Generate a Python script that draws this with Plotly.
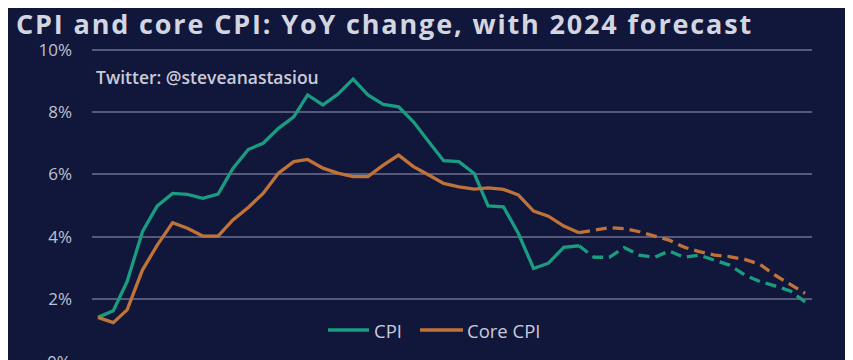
import pandas as pd
import plotly.graph_objects as go

months = pd.date_range("2021-01-01", periods=48, freq="MS")

cpi_actual = [1.41, 1.62, 2.56, 4.16, 4.99, 5.39, 5.36, 5.23, 5.37, 6.19, 6.80, 7.00,
              7.48, 7.85, 8.55, 8.23, 8.57, 9.06, 8.55, 8.25, 8.17, 7.69, 7.05, 6.44,
              6.41, 6.03, 4.99, 4.96, 4.11, 2.98, 3.15, 3.66, 3.71]
core_actual = [1.41, 1.24, 1.65, 2.93, 3.73, 4.45, 4.27, 4.02, 4.02, 4.54, 4.94, 5.39,
               6.04, 6.41, 6.48, 6.20, 6.04, 5.93, 5.93, 6.30, 6.62, 6.25, 5.98, 5.71,
               5.60, 5.53, 5.57, 5.52, 5.34, 4.82, 4.66, 4.34, 4.13]
# forecast starts at the last actual month (Sep 2023) and runs to Dec 2024
cpi_forecast = [3.71, 3.34, 3.34, 3.65, 3.41, 3.34, 3.54, 3.34, 3.41, 3.25, 3.09, 2.77,
                2.56, 2.42, 2.26, 1.91]
core_forecast = [4.13, 4.21, 4.29, 4.26, 4.16, 4.02, 3.89, 3.66, 3.52, 3.41, 3.36, 3.27,
                 3.11, 2.77, 2.48, 2.18]

y_ticks = [0, 2, 4, 6, 8, 10]
y_tick_text = ["0%", "2%", "4%", "6%", "8%", "10%"]
series_names = ["CPI", "Core CPI"]

GREEN = "#1a9c80"
ORANGE = "#c07339"
BG = "#11163b"
TEXT = "#c9ccd8"
TICK = "#bfc2cf"
FONT = "Open Sans"

n_act = len(cpi_actual)
x_act = months[:n_act]
x_fc = months[n_act - 1:]

fig = go.Figure()
fig.add_trace(go.Scatter(x=x_act, y=cpi_actual, mode="lines", name=series_names[0],
                         showlegend=False, line=dict(color=GREEN, width=3.3)))
fig.add_trace(go.Scatter(x=x_act, y=core_actual, mode="lines", name=series_names[1],
                         showlegend=False, line=dict(color=ORANGE, width=3.3)))
fig.add_trace(go.Scatter(x=x_fc, y=cpi_forecast, mode="lines", showlegend=False,
                         line=dict(color=GREEN, width=3.3, dash="11px,6px")))
fig.add_trace(go.Scatter(x=x_fc, y=core_forecast, mode="lines", showlegend=False,
                         line=dict(color=ORANGE, width=3.3, dash="11px,6px")))

# plot area in figure pixels: left 84, right 804, top 32, bottom 352
L, R, T, B = 84, 804, 32, 352
W, H = R - L, B - T


def px(x):
    return (x - L) / W


def py(y):
    return (B - y) / H


fig.update_layout(
    width=853, height=360,
    paper_bgcolor=BG, plot_bgcolor=BG,
    margin=dict(l=L, r=853 - R, t=T, b=360 - B),
    font=dict(family=FONT, color=TEXT),
    title=dict(text="<span style='letter-spacing:1.85px'>CPI and core CPI: YoY change, with 2024 forecast</span>",
               x=8 / 853, xanchor="left", xref="container",
               y=1 - 16.5 / 360, yanchor="middle", yref="container",
               font=dict(family=FONT, size=27, weight=700, color="#d3d6e0")),
    showlegend=False,
    xaxis=dict(range=["2020-12-20", "2024-12-15"], showgrid=False, zeroline=False,
               showticklabels=False, showline=False, ticks=""),
    yaxis=dict(range=[0.042, 10.315], tickvals=y_ticks, ticktext=y_tick_text,
               showgrid=True, gridcolor="#565a78", gridwidth=1.6, zeroline=False,
               showline=False, ticks="", ticklabelstandoff=19,
               tickfont=dict(family=FONT, size=17, color=TICK)),
)

fig.add_annotation(text="Twitter: @steveanastasiou", xref="paper", yref="paper",
                   x=px(85.5), xanchor="left", y=py(69.3),
                   yanchor="middle", showarrow=False,
                   font=dict(family=FONT, size=17.5, weight=600, color=TEXT))
fig.add_annotation(text="0%", xref="paper", yref="paper",
                   x=px(65), xanchor="right", y=py(353.3),
                   yanchor="middle", showarrow=False,
                   font=dict(family=FONT, size=17, color=TICK))

# legend drawn manually (line samples + labels)
leg_y = py(322)
for (x0, x1, tx), col, name in zip([(320, 361, 364), (412, 455, 457)],
                                   [GREEN, ORANGE], series_names):
    fig.add_shape(type="line", xref="paper", yref="paper", x0=px(x0), x1=px(x1),
                  y0=leg_y, y1=leg_y, line=dict(color=col, width=3.5))
    fig.add_annotation(text=name, xref="paper", yref="paper", x=px(tx), xanchor="left",
                       y=leg_y, yanchor="middle", showarrow=False,
                       font=dict(family=FONT, size=18.5, color=TEXT))

fig.write_html("out.html")
